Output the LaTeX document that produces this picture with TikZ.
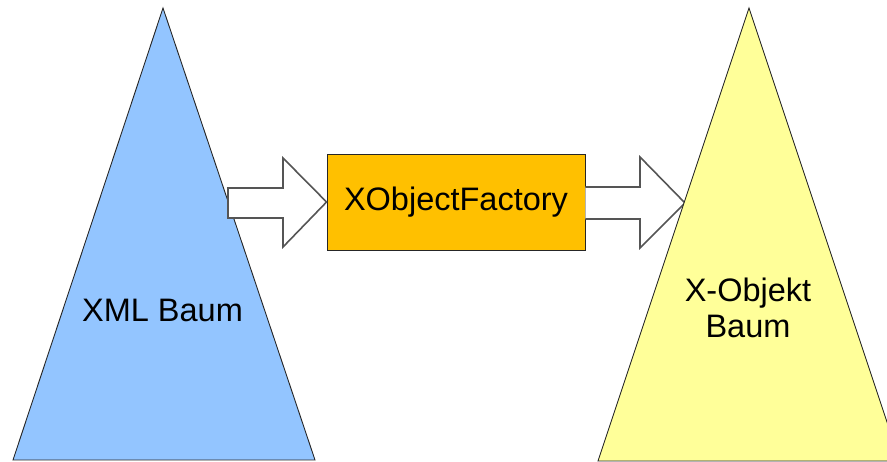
\documentclass[tikz,border=0pt]{standalone}
\usepackage{fontspec}
\setmainfont{Liberation Sans}
\definecolor{treeblue}{RGB}{147,197,255}
\definecolor{treeyellow}{RGB}{255,255,153}
\definecolor{factoryorange}{RGB}{255,192,0}
\definecolor{arrowgray}{RGB}{85,85,85}
\begin{document}
\begin{tikzpicture}[x=1pt,y=-1pt,
  tree/.style={draw=black!85,line width=0.9pt,line join=miter},
  blockarrow/.style={draw=arrowgray,fill=white,line width=1.6pt,line join=miter},
  label/.style={font=\fontsize{32.5}{36}\selectfont,inner sep=0pt}]
\useasboundingbox (0,0) rectangle (887,462);
\clip (0,0) rectangle (887,462);
% left tree
\coordinate (LA) at (163,8);
\coordinate (LL) at (13,460);
\coordinate (LR) at (315,460);
\draw[tree,fill=treeblue] (LA) -- (LR) -- (LL) -- cycle;
\node[label,anchor=base] (xml) at (162.5,322) {XML Baum};
% factory box
\node[draw=black!85,line width=0.9pt,fill=factoryorange,minimum width=258pt,minimum height=96pt,inner sep=0pt,label] (factory) at (456,202) {XObjectFactory};
% arrow 1
\draw[blockarrow] (228,188) -- (283,188) -- (283,158) -- (factory.west) -- (283,247) -- (283,218) -- (228,218) -- cycle;
% arrow 2
\draw[blockarrow] (factory.east |- 0,187) -- (640,187) -- (640,157) -- (685,203) coordinate (A2t) -- (640,248) -- (640,219) -- (factory.east |- 0,219);
% right tree
\coordinate (RA) at (749,8);
\coordinate (RL) at (598,461);
\coordinate (RR) at (900,461);
\draw[tree,fill=treeyellow] (RA) -- (RR) -- (RL) -- cycle;
\node[label,anchor=base,align=center] (xobj) at (748,338) {X-Objekt\\[0pt]Baum};
\end{tikzpicture}
\end{document}
